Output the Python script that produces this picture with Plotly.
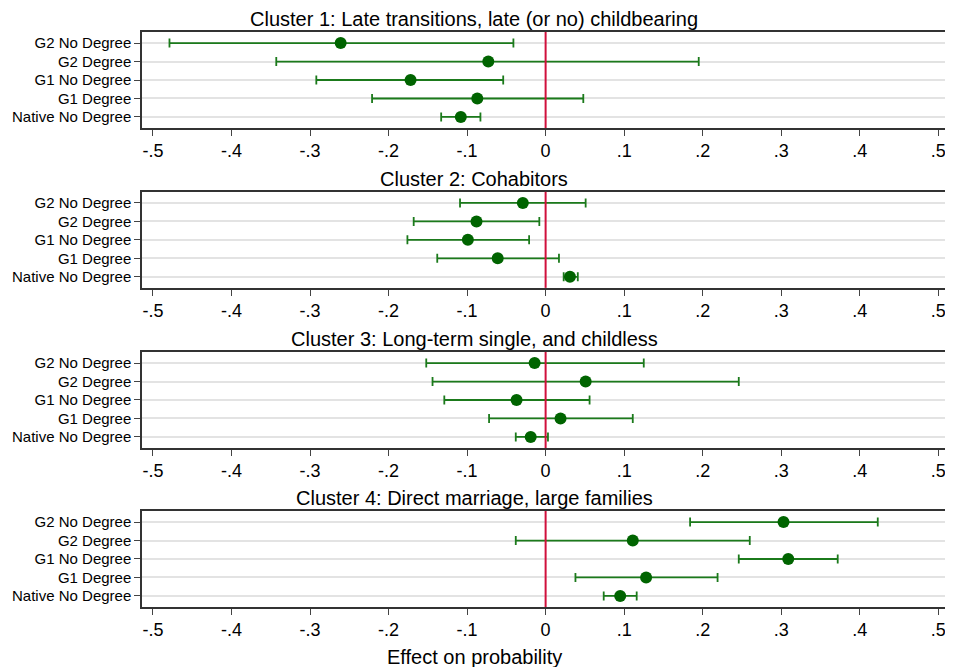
import plotly.graph_objects as go

groups = ["Native No Degree", "G1 Degree", "G1 No Degree", "G2 Degree", "G2 No Degree"]

titles = [
    "Cluster 1: Late transitions, late (or no) childbearing",
    "Cluster 2: Cohabitors",
    "Cluster 3: Long-term single, and childless",
    "Cluster 4: Direct marriage, large families",
]

# point estimates, lower and upper bounds (order follows groups)
c1_est = [-0.108, -0.087, -0.172, -0.073, -0.261]
c1_lo = [-0.133, -0.221, -0.292, -0.343, -0.479]
c1_hi = [-0.083, 0.048, -0.054, 0.195, -0.041]

c2_est = [0.031, -0.061, -0.099, -0.088, -0.029]
c2_lo = [0.023, -0.138, -0.176, -0.168, -0.109]
c2_hi = [0.041, 0.017, -0.021, -0.008, 0.051]

c3_est = [-0.019, 0.019, -0.037, 0.051, -0.014]
c3_lo = [-0.038, -0.072, -0.129, -0.144, -0.152]
c3_hi = [0.003, 0.111, 0.056, 0.246, 0.125]

c4_est = [0.095, 0.128, 0.309, 0.111, 0.303]
c4_lo = [0.074, 0.038, 0.246, -0.038, 0.184]
c4_hi = [0.116, 0.219, 0.372, 0.260, 0.423]

xticks = [-0.5, -0.4, -0.3, -0.2, -0.1, 0, 0.1, 0.2, 0.3, 0.4, 0.5]
xtick_text = ["-.5", "-.4", "-.3", "-.2", "-.1", "0", ".1", ".2", ".3", ".4", ".5"]

panels = [(c1_est, c1_lo, c1_hi), (c2_est, c2_lo, c2_hi),
          (c3_est, c3_lo, c3_hi), (c4_est, c4_lo, c4_hi)]

domains = [[0.833, 1.0], [0.555, 0.722], [0.2765, 0.4435], [0.0, 0.167]]

FONT = "Arial, Liberation Sans, sans-serif"
LINE_GREEN = "#1b7a1b"
DOT_GREEN = "#006400"
ypos = [1, 2, 3, 4, 5]

fig = go.Figure()
layout = dict()
shapes = []
annotations = []

for i, (est, lo, hi) in enumerate(panels):
    n = "" if i == 0 else str(i + 1)
    plus = [h - e for h, e in zip(hi, est)]
    minus = [e - l for e, l in zip(est, lo)]
    fig.add_trace(go.Scatter(
        x=est, y=ypos, mode="markers",
        xaxis="x" + n, yaxis="y" + n,
        marker=dict(size=12, color=DOT_GREEN),
        error_x=dict(type="data", symmetric=False, array=plus, arrayminus=minus,
                     color=LINE_GREEN, thickness=1.8, width=4.5),
        showlegend=False,
    ))

    layout["xaxis" + n] = dict(
        domain=[0, 1], anchor="y" + n, range=[-0.514, 0.515],
        tickvals=xticks, ticktext=xtick_text, ticks="outside", ticklen=6,
        tickcolor="#444", tickfont=dict(size=18, color="black", family=FONT),
        showgrid=False, zeroline=False, showline=True, mirror=True,
        linecolor="#333", linewidth=1.5,
    )
    layout["yaxis" + n] = dict(
        domain=domains[i], anchor="x" + n, range=[0.4, 5.6],
        tickvals=ypos, ticktext=groups, ticks="outside", ticklen=6,
        tickcolor="#444", tickfont=dict(size=15, color="black", family=FONT),
        showgrid=True, gridcolor="#e3e3e3", gridwidth=2,
        zeroline=False, showline=True, mirror=True,
        linecolor="#333", linewidth=1.5,
    )

    shapes.append(dict(type="line", xref="x" + n, yref="y" + n + " domain",
                       x0=0, x1=0, y0=0, y1=1,
                       line=dict(color="#d0103c", width=2)))

    annotations.append(dict(text=titles[i], xref="paper", yref="paper",
                            x=0.411, y=domains[i][1], xanchor="center",
                            yanchor="bottom", yshift=0, showarrow=False,
                            font=dict(size=20, color="black", family=FONT)))

annotations.append(dict(text="Effect on probability", xref="paper", yref="paper",
                        x=0.411, y=-0.087, xanchor="center", yanchor="middle",
                        showarrow=False,
                        font=dict(size=20, color="black", family=FONT)))

# page body has an 8px margin, so the figure is shrunk to fit the window
fig.update_layout(
    **layout,
    shapes=shapes,
    annotations=annotations,
    width=945, height=659,
    margin=dict(l=134, r=1, t=24, b=60),
    plot_bgcolor="white", paper_bgcolor="white",
    font=dict(family=FONT, color="black"),
)

fig.write_html("out.html")
